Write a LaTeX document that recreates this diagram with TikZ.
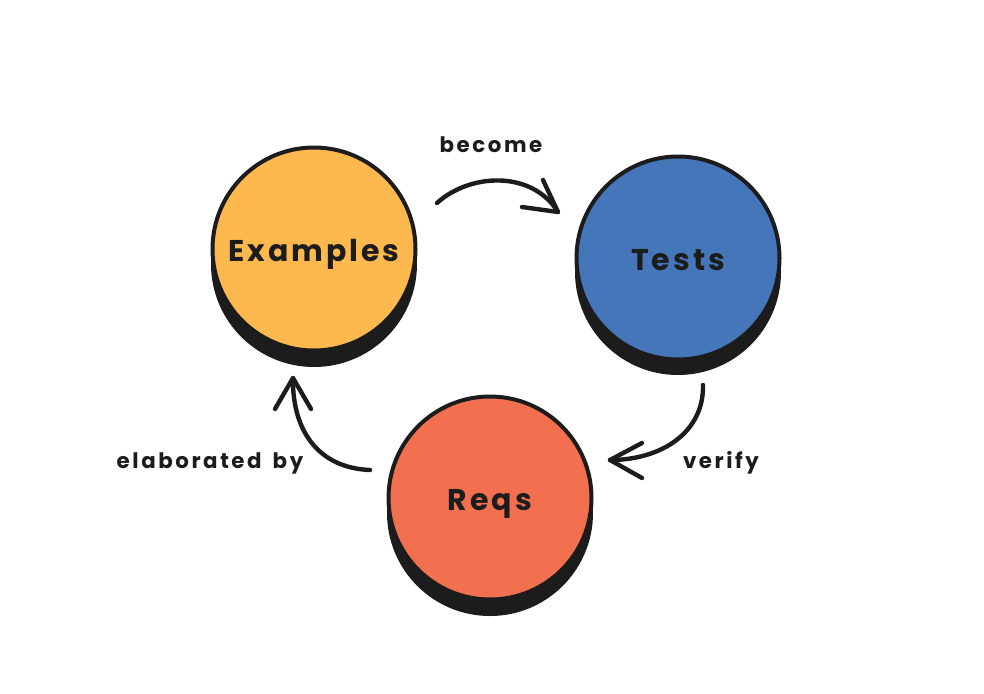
\documentclass[tikz,border=0pt]{standalone}
\usepackage{fontspec}
\setmainfont{Poppins}[UprightFont=* SemiBold, BoldFont=* Bold]
\newfontfamily\lblfont{Poppins}[UprightFont=* Bold, LetterSpace=12]
\newfontfamily\circfont{Poppins}[UprightFont=* Bold, LetterSpace=10]
\definecolor{ink}{HTML}{1C1C1C}
\definecolor{cyellow}{HTML}{FDB94E}
\definecolor{cblue}{HTML}{4576BA}
\definecolor{cred}{HTML}{F2704F}
\begin{document}
\begin{tikzpicture}[x=0.75pt,y=-0.75pt,
  bubble/.style={circle, draw=ink, line width=3pt, minimum size=203*0.75pt, inner sep=0pt, text=ink, text height=19pt, text depth=0pt, font=\circfont\fontsize{22.5}{26}\selectfont},
  shadowdisc/.style={circle, fill=ink, minimum size=206*0.75pt, inner sep=0pt},
  conn/.style={draw=ink, line width=3.3pt, line cap=round, line join=round},
  lbl/.style={text=ink, font=\lblfont\fontsize{16}{19}\selectfont, inner sep=0pt}]
\useasboundingbox (0,0) rectangle (984,693);
% shadows
\node[shadowdisc] (exs) at (314,264) {};
\node[shadowdisc] (tes) at (678,272) {};
\node[shadowdisc] (rqs) at (490,513) {};
% circles
\node[bubble, fill=cyellow] (ex) at (314,249) {Examples};
\node[bubble, fill=cblue] (te) at (678,258) {Tests};
\node[bubble, fill=cred] (rq) at (490,498) {Reqs};
% connector end points
\coordinate (b0) at (437,203);
\coordinate (b1) at (558,212);
\coordinate (v0) at (703,385);
\coordinate (v1) at (610,460);
\coordinate (e0) at (370,470);
\coordinate (e1) at (293,378);
% connectors
\draw[conn] (b0) .. controls (470,173) and (532,170) .. (b1);
\draw[conn] (543,180) -- (b1) -- (522,207);
\draw[conn] (v0) .. controls (704,432) and (662,460) .. (v1);
\draw[conn] (642,443) -- (v1) -- (642,478);
\draw[conn] (e0) .. controls (318,468) and (292,430) .. (e1);
\draw[conn] (275,409) -- (e1) -- (311,409);
% labels
\node[lbl] (lb) at (491,145) {become};
\node[lbl] (lv) at (721,463) {verify};
\node[lbl] (le) at (210,463) {elaborated\hspace{3pt} by};
\end{tikzpicture}
\end{document}
